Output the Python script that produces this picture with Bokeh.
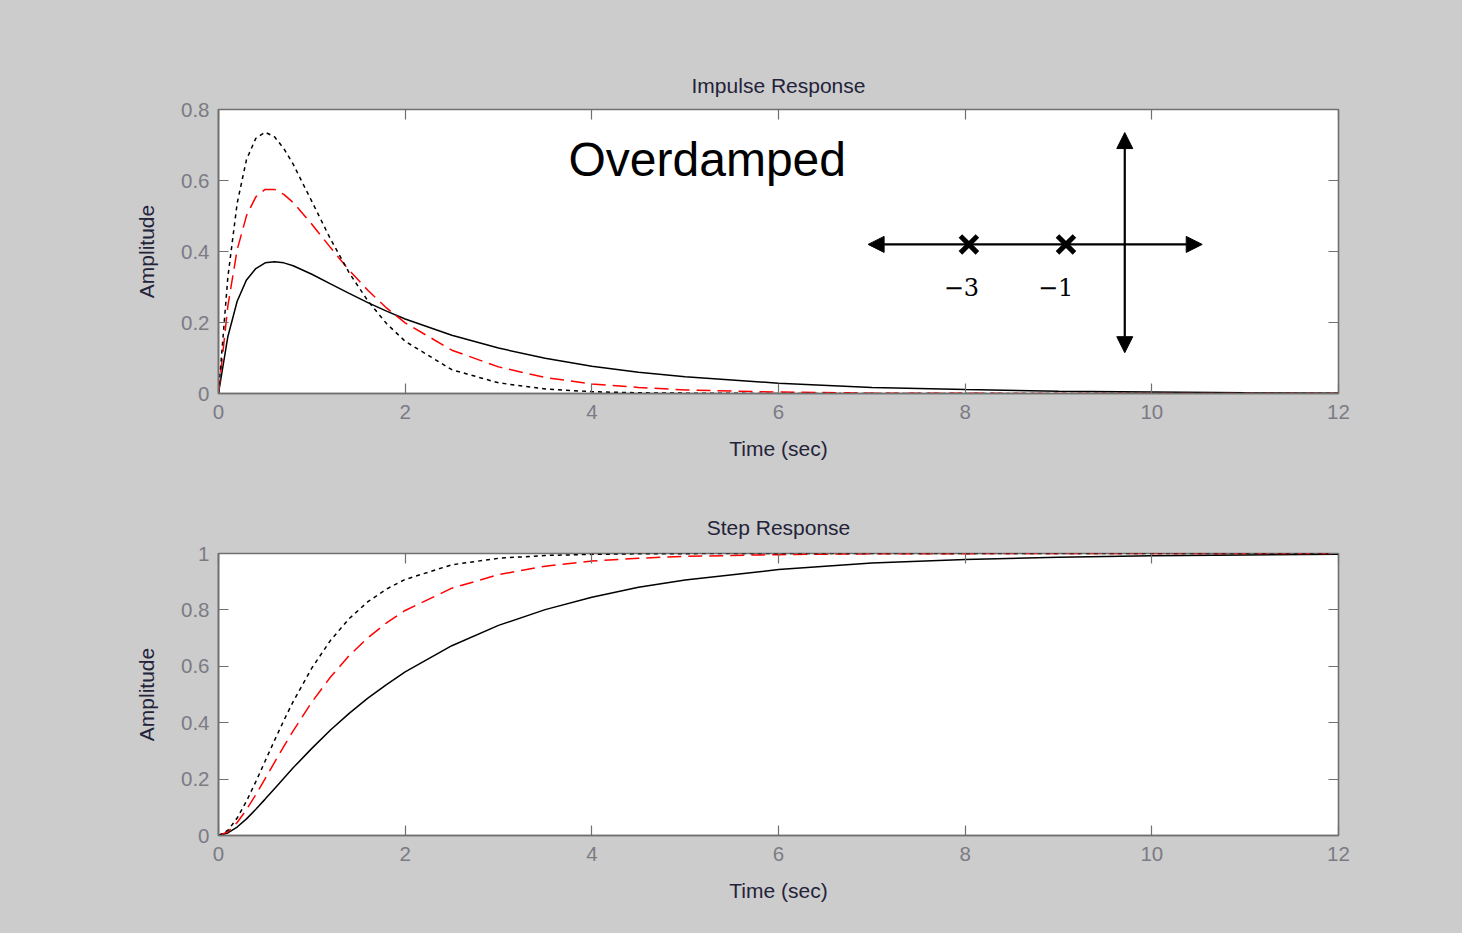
from bokeh.plotting import figure
from bokeh.layouts import column
from bokeh.models import Range1d, LinearAxis, FixedTicker, Arrow, NormalHead, Label
from bokeh.embed import file_html
from bokeh.resources import INLINE
from bokeh.core.properties import value

# ---------------- data ----------------
t = [0, 0.1, 0.2, 0.3, 0.4, 0.5, 0.6, 0.7, 0.8, 1.0, 1.2, 1.4, 1.6, 1.8, 2.0,
     2.5, 3.0, 3.5, 4.0, 4.5, 5.0, 6.0, 7.0, 8.0, 9.0, 10.0, 11.0, 12.0]

impulse_solid = [0, 0.160, 0.260, 0.320, 0.352, 0.368, 0.371, 0.368, 0.360, 0.336, 0.309,
                 0.282, 0.256, 0.232, 0.210, 0.164, 0.128, 0.099, 0.077, 0.060, 0.047,
                 0.029, 0.017, 0.011, 0.006, 0.004, 0.002, 0.001]
impulse_red = [0, 0.246, 0.405, 0.501, 0.554, 0.575, 0.575, 0.561, 0.538, 0.477, 0.411,
               0.347, 0.291, 0.241, 0.199, 0.122, 0.075, 0.045, 0.027, 0.017, 0.010,
               0.004, 0.001, 0.0005, 0, 0, 0, 0]
impulse_dotted = [0, 0.327, 0.536, 0.659, 0.719, 0.736, 0.723, 0.690, 0.646, 0.541, 0.435,
                  0.340, 0.261, 0.197, 0.147, 0.067, 0.030, 0.013, 0.005, 0.002, 0.001,
                  0, 0, 0, 0, 0, 0, 0]

step_solid = [0, 0.009, 0.030, 0.059, 0.093, 0.129, 0.166, 0.203, 0.240, 0.309, 0.374,
              0.433, 0.487, 0.535, 0.580, 0.673, 0.745, 0.801, 0.845, 0.880, 0.906,
              0.943, 0.966, 0.979, 0.987, 0.992, 0.995, 0.997]
step_red = [0, 0.013, 0.046, 0.092, 0.145, 0.202, 0.259, 0.316, 0.371, 0.473, 0.562,
            0.638, 0.701, 0.754, 0.798, 0.877, 0.925, 0.955, 0.973, 0.983, 0.990,
            0.996, 0.999, 0.9995, 1.0, 1.0, 1.0, 1.0]
step_dotted = [0, 0.018, 0.062, 0.122, 0.191, 0.264, 0.337, 0.408, 0.475, 0.594, 0.692,
               0.769, 0.829, 0.874, 0.908, 0.960, 0.983, 0.993, 0.997, 0.999, 0.9995,
               1.0, 1.0, 1.0, 1.0, 1.0, 1.0, 1.0]

x_ticks = [0, 2, 4, 6, 8, 10, 12]
x_labels = ["0", "2", "4", "6", "8", "10", "12"]
imp_y_ticks = [0, 0.2, 0.4, 0.6, 0.8]
imp_y_labels = ["0", "0.2", "0.4", "0.6", "0.8"]
step_y_ticks = [0, 0.2, 0.4, 0.6, 0.8, 1.0]
step_y_labels = ["0", "0.2", "0.4", "0.6", "0.8", "1"]

# pole-zero inset (drawn in the impulse plot's data units)
inset_title = "Overdamped"
inset_title_pos = (3.75, 0.66)
pole_x = [8.04, 9.08]
pole_y = [0.42, 0.42]
pole_labels = ["\u22123", "\u22121"]
pole_label_x = [7.96, 8.97]
pole_label_y = [0.30, 0.30]
real_axis = (6.96, 10.54, 0.42)       # x_start, x_end, y
imag_axis = (9.71, 0.115, 0.735)      # x, y_start, y_end

# ---------------- styling ----------------
GRAY_BG = "#cccccc"
FRAME = "#707070"
TICK_TXT = "#7b7b84"
DARK_TXT = "#23233a"
FONT = "Liberation Sans"


def make_fig(title, height, b_top, b_bottom, ymax, yticks, ylabels, title_standoff):
    p = figure(width=1462, height=height,
               x_range=Range1d(0, 12), y_range=Range1d(0, ymax),
               output_backend="svg", toolbar_location=None,
               min_border_left=218, min_border_right=124,
               min_border_top=b_top, min_border_bottom=b_bottom,
               background_fill_color="white", border_fill_color=GRAY_BG,
               outline_line_color=FRAME, outline_line_width=1.6)
    p.title.text = title
    p.title.align = "center"
    p.title.text_font = FONT
    p.title.text_font_size = "21px"
    p.title.text_font_style = "normal"
    p.title.text_color = DARK_TXT
    p.title.standoff = title_standoff
    p.grid.visible = False

    for ax, ticks, labels in ((p.xaxis[0], x_ticks, x_labels), (p.yaxis[0], yticks, ylabels)):
        ax.ticker = FixedTicker(ticks=ticks)
        ax.major_label_overrides = dict(zip(ticks, labels))
        ax.major_tick_in = 10
        ax.major_tick_out = 0
        ax.minor_tick_in = 0
        ax.minor_tick_out = 0
        ax.major_tick_line_color = FRAME
        ax.major_tick_line_width = 1.2
        ax.axis_line_color = FRAME
        ax.axis_line_width = 1.6
        ax.major_label_text_font = FONT
        ax.major_label_text_font_size = "20.5px"
        ax.major_label_text_color = TICK_TXT
        ax.axis_label_text_font = FONT
        ax.axis_label_text_font_size = "21px"
        ax.axis_label_text_font_style = "normal"
        ax.axis_label_text_color = DARK_TXT
    p.xaxis.axis_label = "Time (sec)"
    p.yaxis.axis_label = "Amplitude"
    p.xaxis.major_label_standoff = 11
    p.yaxis.major_label_standoff = 9
    p.xaxis.axis_label_standoff = 15
    p.yaxis.axis_label_standoff = 20

    top = LinearAxis(ticker=FixedTicker(ticks=x_ticks), major_label_text_font_size="1px",
                     major_label_text_color=None,
                     major_label_standoff=0, major_tick_in=10, major_tick_out=0,
                     minor_tick_in=0, minor_tick_out=0, axis_line_color=None,
                     major_tick_line_color=FRAME, major_tick_line_width=1.2)
    right = LinearAxis(ticker=FixedTicker(ticks=yticks), major_label_text_font_size="1px",
                       major_label_text_color=None,
                       major_label_standoff=0, major_tick_in=10, major_tick_out=0,
                       minor_tick_in=0, minor_tick_out=0, axis_line_color=None,
                       major_tick_line_color=FRAME, major_tick_line_width=1.2)
    p.add_layout(top, "above")
    p.add_layout(right, "right")
    return p


# ---------------- impulse response ----------------
p1 = make_fig("Impulse Response", 480, 109, 87, 0.8, imp_y_ticks, imp_y_labels, 25)
p1.line(t, impulse_solid, line_color="black", line_width=1.5)
p1.line(t, impulse_red, line_color="red", line_width=1.5, line_dash="14 7")
p1.line(t, impulse_dotted, line_color="black", line_width=1.5, line_dash="4 4")

p1.add_layout(Label(x=inset_title_pos[0], y=inset_title_pos[1], text=inset_title,
                    text_font=FONT, text_font_size="48px", text_color="black",
                    text_baseline="alphabetic"))
p1.add_layout(Arrow(x_start=real_axis[0], y_start=real_axis[2], x_end=real_axis[1], y_end=real_axis[2],
                    line_width=2.2, line_color="black",
                    start=NormalHead(size=16, fill_color="black", line_color="black"),
                    end=NormalHead(size=16, fill_color="black", line_color="black")))
p1.add_layout(Arrow(x_start=imag_axis[0], y_start=imag_axis[1], x_end=imag_axis[0], y_end=imag_axis[2],
                    line_width=2.2, line_color="black",
                    start=NormalHead(size=16, fill_color="black", line_color="black"),
                    end=NormalHead(size=16, fill_color="black", line_color="black")))
p1.scatter(pole_x, pole_y, marker="x", size=24, line_width=5, line_color="black")
p1.text(pole_label_x, pole_label_y, text=pole_labels, text_font=value("DejaVu Serif"),
        text_font_size="24px", text_color="black", text_align="center", text_baseline="middle")

# ---------------- step response ----------------
p2 = make_fig("Step Response", 453, 73, 98, 1.0, step_y_ticks, step_y_labels, 29)
p2.line(t, step_solid, line_color="black", line_width=1.5)
p2.line(t, step_red, line_color="red", line_width=1.5, line_dash="14 7")
p2.line(t, step_dotted, line_color="black", line_width=1.5, line_dash="4 4")

layout = column(p1, p2, spacing=0, styles={"background-color": GRAY_BG})
open("out.html", "w").write(file_html(layout, INLINE))
